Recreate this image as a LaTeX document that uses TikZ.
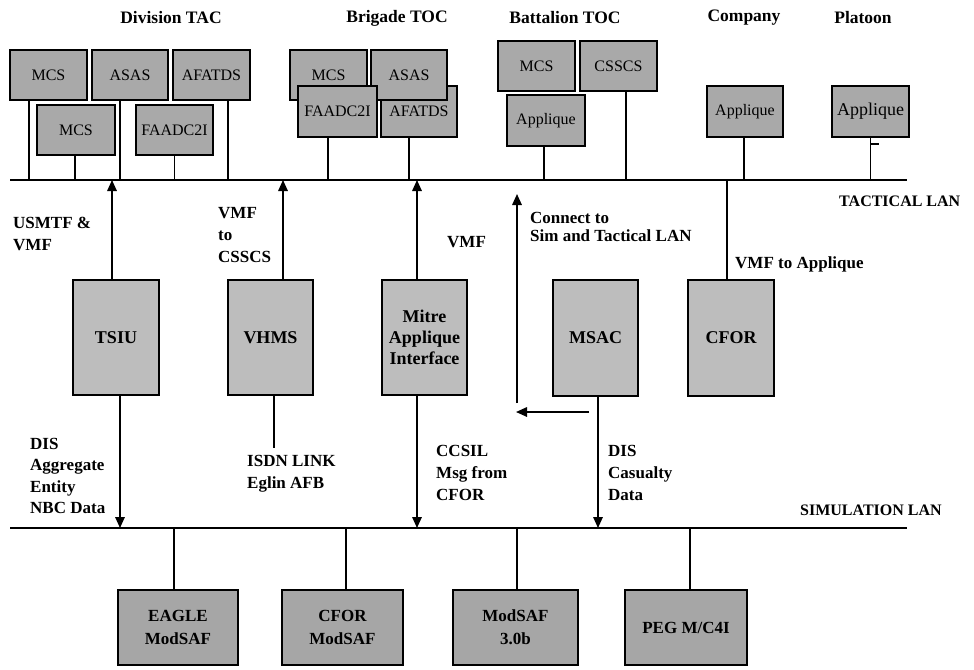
\documentclass[tikz,border=0pt]{standalone}
\usepackage{fontspec}
\setmainfont{Liberation Serif}
\usepackage{xcolor}
\definecolor{sysfill}{HTML}{A9A9A9}
\definecolor{unitfill}{HTML}{BDBDBD}
\definecolor{simfill}{HTML}{A6A6A6}
\definecolor{linecolor}{HTML}{000000}
\usetikzlibrary{positioning,arrows.meta,calc}
\tikzset{
    sysbox/.style={
        rectangle,
        draw=linecolor,
        fill=sysfill,
        line width=2pt,
        inner sep=0pt,
        minimum height=50pt,
        minimum width=77pt,
        align=center,
        font=\fontsize{16}{18}\selectfont,
    },
    unitbox/.style={
        rectangle,
        draw=linecolor,
        fill=unitfill,
        line width=2pt,
        inner sep=0pt,
        minimum height=115pt,
        minimum width=85pt,
        align=center,
        font=\bfseries\fontsize{18}{21}\selectfont,
    },
    simbox/.style={
        rectangle,
        draw=linecolor,
        fill=simfill,
        line width=2pt,
        inner sep=0pt,
        minimum height=75pt,
        minimum width=121pt,
        align=center,
        font=\bfseries\fontsize{17}{23}\selectfont,
    },
    lan/.style={
        line width=2.2pt,
        linecolor,
    },
    link/.style={
        line width=1.6pt,
        linecolor,
    },
    flow/.style={
        link,
        -{Triangle[length=11pt,width=9.5pt]},
    },
    label/.style={
        anchor=west,
        inner sep=0pt,
        align=left,
        font=\bfseries\fontsize{17}{22}\selectfont,
    },
    title/.style={
        inner sep=0pt,
        font=\bfseries\fontsize{17.5}{21}\selectfont,
    },
}

\begin{document}
\begin{tikzpicture}[x=1pt,y=-1pt]
    \useasboundingbox (0,0) rectangle (974,669);

    % echelon titles
    \node[title] (divtitle) at (171,18) {Division TAC};
    \node[title] (brititle) at (397,18) {Brigade TOC};
    \node[title] (battitle) at (565,18) {Battalion TOC};
    \node[title] (comtitle) at (744,18) {Company};
    \node[title] (platitle) at (863,18) {Platoon};

    % LAN backbones
    \coordinate (tacwest) at (10,180);
    \coordinate (taceast) at (907,180);
    \coordinate (simwest) at (10,528);
    \coordinate (simeast) at (907,528);
    \draw[lan] (tacwest) -- (taceast);
    \draw[lan] (simwest) -- (simeast);
    \node[label, font=\bfseries\fontsize{16}{20}\selectfont] (taclabel) at (839,201) {TACTICAL LAN};
    \node[label, font=\bfseries\fontsize{16}{20}\selectfont] (simlabel) at (800,510) {SIMULATION LAN};

    % Division TAC
    \node[sysbox] (divmcs) at (48.5,75) {MCS};
    \node[sysbox, minimum width=76pt] (divasas) at (130,75) {ASAS};
    \node[sysbox] (divafatds) at (211.5,75) {AFATDS};
    \node[sysbox, minimum width=78pt] (divmcsb) at (76,130) {MCS};
    \node[sysbox] (divfaadc) at (174.5,130) {FAADC2I};

    % Brigade TOC
    \node[sysbox] (brimcs) at (328.5,75) {MCS};
    \node[sysbox, minimum width=76pt, minimum height=51pt] (briafatds) at (419,111.5) {AFATDS};
    \node[sysbox, minimum width=76pt] (briasas) at (409,75) {ASAS};
    \node[sysbox, minimum width=79pt, minimum height=51pt] (brifaadc) at (337.5,111.5) {FAADC2I};

    % Battalion TOC
    \node[sysbox] (batmcs) at (536.5,66) {MCS};
    \node[sysbox] (batcsscs) at (618.5,66) {CSSCS};
    \node[sysbox, minimum width=78pt, minimum height=51pt] (batapp) at (546,120.5) {Applique};

    % Company and Platoon
    \node[sysbox, minimum width=76pt, minimum height=51pt] (comapp) at (745,111.5) {Applique};
    \node[sysbox, minimum height=51pt, font=\fontsize{18}{21}\selectfont] (plaapp) at (870.5,111.5) {Applique};

    % drops to tactical LAN
    \draw[link] ([xshift=-19.5pt]divmcs.south) -- ([xshift=-19.5pt]divmcs.south |- tacwest);
    \draw[link] ([xshift=-10pt]divasas.south) -- ([xshift=-10pt]divasas.south |- tacwest);
    \draw[link] ([xshift=16.5pt]divafatds.south) -- ([xshift=16.5pt]divafatds.south |- tacwest);
    \draw[link] ([xshift=-1pt]divmcsb.south) -- ([xshift=-1pt]divmcsb.south |- tacwest);
    \draw[link] (divfaadc.south) -- (divfaadc.south |- tacwest);
    \draw[link] ([xshift=-9.5pt]brifaadc.south) -- ([xshift=-9.5pt]brifaadc.south |- tacwest);
    \draw[link] ([xshift=-10pt]briafatds.south) -- ([xshift=-10pt]briafatds.south |- tacwest);
    \draw[link] ([xshift=-2pt]batapp.south) -- ([xshift=-2pt]batapp.south |- tacwest);
    \draw[link] ([xshift=7.5pt]batcsscs.south) -- ([xshift=7.5pt]batcsscs.south |- tacwest);
    \draw[link] ([xshift=-1pt]comapp.south) -- ([xshift=-1pt]comapp.south |- tacwest);
    \draw[link] (plaapp.south) -- (plaapp.south |- tacwest);
    \draw[link] ($(plaapp.south)+(0,6)$) -- ++(8,0);

    % gateways between the LANs
    \node[unitbox, minimum width=86pt] (tsiu) at (116,337.5) {TSIU};
    \node[unitbox] (vhms) at (270.5,337.5) {VHMS};
    \node[unitbox] (mitre) at (424.5,337.5) {Mitre\\Applique\\Interface};
    \node[unitbox, minimum height=116pt] (msac) at (595.5,338) {MSAC};
    \node[unitbox, minimum width=86pt, minimum height=116pt] (cfor) at (731,338) {CFOR};

    \draw[flow] ([xshift=-4pt]tsiu.north) -- ([xshift=-4pt]tsiu.north |- tacwest);
    \draw[flow] ([xshift=4pt]tsiu.south) -- ([xshift=4pt]tsiu.south |- simwest);
    \draw[flow] ([xshift=12.5pt]vhms.north) -- ([xshift=12.5pt]vhms.north |- tacwest);
    \draw[link] ([xshift=3.5pt]vhms.south) -- ++(0,52);
    \draw[flow] ([xshift=-7.5pt]mitre.north) -- ([xshift=-7.5pt]mitre.north |- tacwest);
    \draw[flow] ([xshift=-7.5pt]mitre.south) -- ([xshift=-7.5pt]mitre.south |- simwest);
    \draw[flow] ([xshift=2.5pt]msac.south) -- ([xshift=2.5pt]msac.south |- simwest);
    \draw[flow] ([xshift=37pt,yshift=-15pt]msac.south west) -- ++(-73,0);
    \draw[flow] ([xshift=-35pt,yshift=-6pt]msac.south west) -- ++(0,-209);
    \draw[link] ([xshift=-4pt]cfor.north) -- ([xshift=-4pt]cfor.north |- tacwest);

    % message labels
    \node[label] (usmtf) at (13,234) {USMTF \&\\VMF};
    \node[label] (vmfcsscs) at (218,235) {VMF\\to\\CSSCS};
    \node[label] (vmfmitre) at (447,242) {VMF};
    \node[label, font=\bfseries\fontsize{17}{18}\selectfont] (connect) at (530,227) {Connect to\\Sim and Tactical LAN};
    \node[label] (vmfapp) at (735,264) {VMF to Applique};
    \node[label, font=\bfseries\fontsize{17}{21.5}\selectfont] (disagg) at (30,476) {DIS\\Aggregate\\Entity\\NBC Data};
    \node[label] (isdn) at (247,474) {ISDN LINK\\Eglin AFB};
    \node[label] (ccsil) at (436,473) {CCSIL\\Msg from\\CFOR};
    \node[label] (discas) at (608,473) {DIS\\Casualty\\Data};

    % simulation hosts
    \node[simbox, minimum width=120pt] (eagle) at (178,627.5) {EAGLE\\ModSAF};
    \node[simbox] (cformod) at (342.5,627.5) {CFOR\\ModSAF};
    \node[simbox, minimum width=125pt] (modsaf) at (515.5,627.5) {ModSAF\\3.0b};
    \node[simbox, minimum width=122pt] (peg) at (686,627.5) {PEG M/C4I};

    \draw[link] ([xshift=-4pt]eagle.north |- simwest) -- ([xshift=-4pt]eagle.north);
    \draw[link] ([xshift=3.5pt]cformod.north |- simwest) -- ([xshift=3.5pt]cformod.north);
    \draw[link] ([xshift=1.5pt]modsaf.north |- simwest) -- ([xshift=1.5pt]modsaf.north);
    \draw[link] ([xshift=4pt]peg.north |- simwest) -- ([xshift=4pt]peg.north);
\end{tikzpicture}
\end{document}
